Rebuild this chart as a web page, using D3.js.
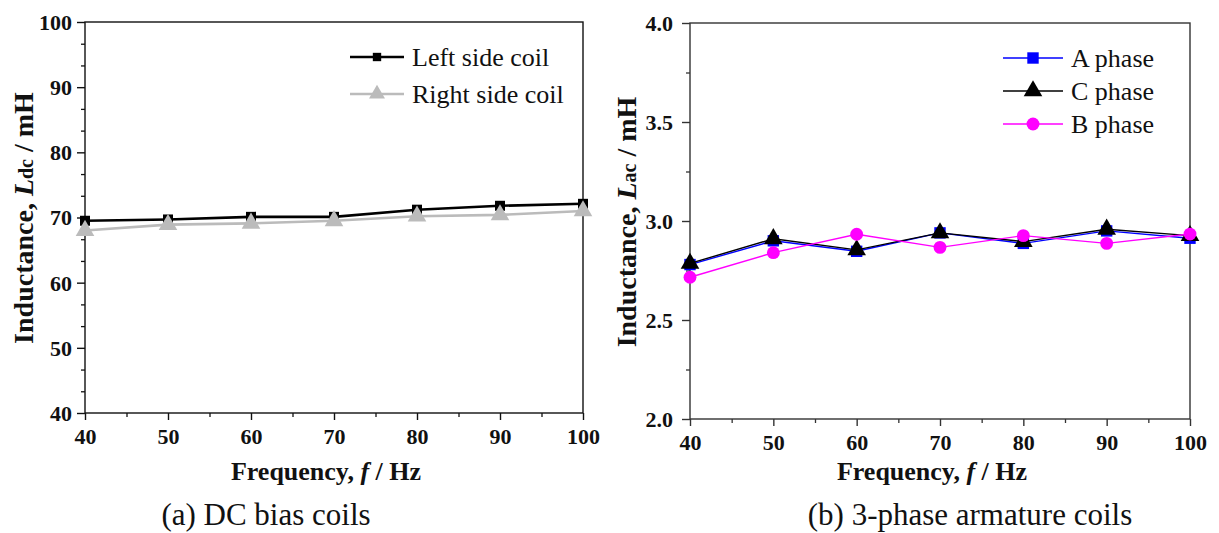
<!DOCTYPE html>
<html>
<head>
<meta charset="utf-8">
<script src="https://cdn.jsdelivr.net/npm/d3@7"></script>
<style>
  html, body { margin: 0; padding: 0; background: #fff; }
  svg { display: block; }
</style>
</head>
<body>
<svg id="chart" width="1219" height="533"></svg>
<script>
// Frequencies (Hz)
const frequencies = [40, 50, 60, 70, 80, 90, 100];

// (a) DC bias coil inductance, mH
const leftCoil  = [69.5, 69.7, 70.1, 70.1, 71.2, 71.8, 72.1];
const rightCoil = [68.0, 68.9, 69.1, 69.5, 70.2, 70.4, 71.0];

// (b) Armature coil inductance, mH
const phaseA = [2.78, 2.90, 2.847, 2.94, 2.887, 2.95, 2.913];
const phaseC = [2.786, 2.91, 2.854, 2.94, 2.896, 2.958, 2.926];
const phaseB = [2.716, 2.84, 2.933, 2.867, 2.926, 2.887, 2.934];

// Axis ticks
const xTicks = [40, 50, 60, 70, 80, 90, 100];
const xMinor = [45, 55, 65, 75, 85, 95];
const yTicksA = [40, 50, 60, 70, 80, 90, 100];
const yTicksB = [2.0, 2.5, 3.0, 3.5, 4.0];
const yMinorB = [2.25, 2.75, 3.25, 3.75];

const SERIF = '"Liberation Serif", "Times New Roman", Tinos, "DejaVu Serif", serif';

const svg = d3.select("#chart");

function drawPanel(p) {
  const g = svg.append("g").attr("font-family", SERIF);
  const x = d3.scaleLinear().domain([40, 100]).range([p.left, p.right]);
  const y = d3.scaleLinear().domain(p.yDomain).range([p.bottom, p.top]);

  // frame
  g.append("rect")
    .attr("x", p.left).attr("y", p.top)
    .attr("width", p.right - p.left).attr("height", p.bottom - p.top)
    .attr("fill", "none").attr("stroke", p.frame).attr("stroke-width", 1.4);

  // minor ticks
  const xm = g.append("g").attr("transform", `translate(0,${p.bottom})`)
    .call(d3.axisBottom(x).tickValues(xMinor).tickFormat("").tickSize(4).tickSizeOuter(0));
  const ym = g.append("g").attr("transform", `translate(${p.left},0)`)
    .call(d3.axisLeft(y).tickValues(p.yMinor).tickFormat("").tickSize(4).tickSizeOuter(0));
  [xm, ym].forEach(a => { a.select(".domain").remove(); a.selectAll("line").attr("stroke", p.frame).attr("stroke-width", 1.3); });

  // major ticks + labels
  const xa = g.append("g").attr("transform", `translate(0,${p.bottom})`)
    .call(d3.axisBottom(x).tickValues(xTicks).tickSize(7).tickSizeOuter(0).tickPadding(8));
  const ya = g.append("g").attr("transform", `translate(${p.left},0)`)
    .call(d3.axisLeft(y).tickValues(p.yTicks).tickFormat(p.yFormat).tickSize(8).tickSizeOuter(0).tickPadding(p.yPad));
  [xa, ya].forEach(a => {
    a.attr("font-family", SERIF).attr("font-size", 22).attr("font-weight", "bold");
    a.select(".domain").remove();
    a.selectAll("line").attr("stroke", p.frame).attr("stroke-width", 1.4);
    a.selectAll("text").attr("fill", "#111");
  });
  ya.selectAll("text").attr("dy", "0.34em");

  // x-axis title
  const xt = g.append("text")
    .attr("x", (p.left + p.right) / 2 - 8).attr("y", 480)
    .attr("text-anchor", "middle")
    .attr("font-size", 26).attr("font-weight", "bold").attr("fill", "#111");
  xt.append("tspan").text("Frequency,  ");
  xt.append("tspan").attr("font-style", "italic").text("f");
  xt.append("tspan").text(" / Hz");

  // y-axis title
  const yt = g.append("text")
    .attr("transform", `translate(${p.titleX},${p.titleY}) rotate(-90)`)
    .attr("text-anchor", "middle")
    .attr("font-size", 28).attr("font-weight", "bold").attr("fill", "#111");
  yt.append("tspan").text("Inductance,  ");
  yt.append("tspan").attr("font-style", "italic").text("L");
  yt.append("tspan").attr("font-size", 20).text(p.sub);
  yt.append("tspan").text(" / mH");

  // caption
  g.append("text")
    .attr("x", p.captionX).attr("y", 525)
    .attr("text-anchor", "middle")
    .attr("font-size", 31).attr("fill", "#111")
    .text(p.caption);

  // series
  const line = d3.line().x((d, i) => x(frequencies[i])).y(d => y(d));
  p.series.forEach(s => {
    g.append("path").datum(s.values)
      .attr("d", line).attr("fill", "none")
      .attr("stroke", s.color).attr("stroke-width", s.width);
    g.selectAll(null).data(s.values).enter().append("path")
      .attr("transform", (d, i) => `translate(${x(frequencies[i])},${y(d)})`)
      .attr("d", d3.symbol().type(s.symbol).size(s.size))
      .attr("fill", s.color);
  });

  // legend
  p.series.forEach((s, i) => {
    const ly = p.legendY + i * p.legendStep;
    g.append("line")
      .attr("x1", p.legendX).attr("x2", p.legendX + p.legendLen)
      .attr("y1", ly).attr("y2", ly)
      .attr("stroke", s.color).attr("stroke-width", s.width);
    g.append("path")
      .attr("transform", `translate(${p.legendX + p.legendLen / 2},${ly})`)
      .attr("d", d3.symbol().type(s.symbol).size(s.legendSize || s.size))
      .attr("fill", s.color);
    g.append("text")
      .attr("x", p.legendX + p.legendLen + 8).attr("y", ly)
      .attr("dy", "0.33em")
      .attr("font-size", 26).attr("fill", "#111")
      .text(s.name);
  });
}

drawPanel({
  left: 85, right: 583, top: 22, bottom: 413,
  yDomain: [40, 100], yTicks: yTicksA, yPad: 5,
  yMinor: d3.range(40, 100, 10).flatMap(v => [v + 10 / 3, v + 20 / 3]),
  yFormat: d3.format("d"), frame: "#111",
  titleX: 33, titleY: 218,
  sub: "dc", caption: "(a) DC bias coils", captionX: 266,
  legendX: 350, legendY: 57, legendStep: 37, legendLen: 54,
  series: [
    { name: "Left side coil", values: leftCoil, color: "#000", width: 2.6, symbol: d3.symbolSquare, size: 100, legendSize: 70 },
    { name: "Right side coil", values: rightCoil, color: "#bbb", width: 2.6, symbol: d3.symbolTriangle, size: 150, legendSize: 110 }
  ]
});

drawPanel({
  left: 690, right: 1190, top: 23, bottom: 419,
  yDomain: [2.0, 4.0], yTicks: yTicksB, yPad: 9,
  yMinor: yMinorB,
  yFormat: d3.format(".1f"), frame: "#333",
  titleX: 636, titleY: 222,
  sub: "ac", caption: "(b) 3-phase armature coils", captionX: 970,
  legendX: 1003, legendY: 58, legendStep: 33, legendLen: 60,
  series: [
    { name: "A phase", values: phaseA, color: "#0000ff", width: 1.4, symbol: d3.symbolSquare, size: 130 },
    { name: "C phase", values: phaseC, color: "#000", width: 1.4, symbol: d3.symbolTriangle, size: 150 },
    { name: "B phase", values: phaseB, color: "#ff00ff", width: 1.4, symbol: d3.symbolCircle, size: 130 }
  ]
});
</script>
</body>
</html>
